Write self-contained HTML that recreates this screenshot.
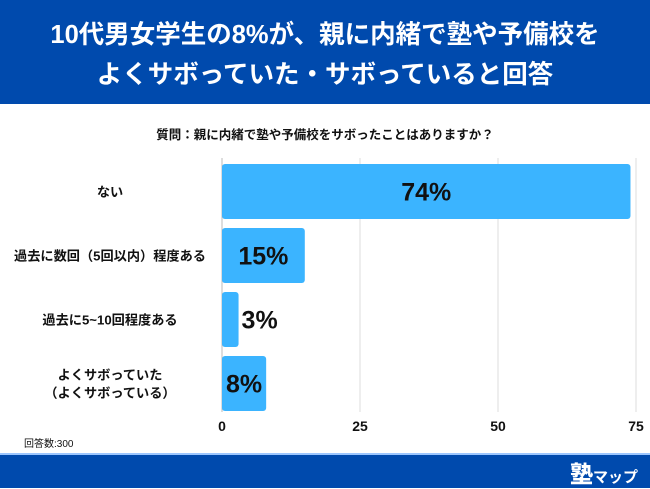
<!DOCTYPE html>
<html><head><meta charset="utf-8"><style>
body{margin:0;width:650px;height:488px;overflow:hidden;background:#fff;font-family:"Liberation Sans","Noto Sans CJK JP",sans-serif;position:relative}
#hdr{position:absolute;left:0;top:0;width:650px;height:104px;background:#004aad;color:#fff;font-weight:bold;font-size:25.5px;line-height:40px;text-align:center;padding-top:15px;box-sizing:border-box}
#ftr{position:absolute;left:0;top:453px;width:650px;height:35px;background:#004aad;border-top:2px solid #9cc6ff;box-sizing:border-box}
#logo{position:absolute;right:12px;top:0px;color:#fff;font-weight:bold;font-size:15px}
#logo b{font-size:23px}
.t{position:absolute;font-weight:bold;color:#111}
</style></head><body>
<div id="hdr">10代男女学生の8%が、親に内緒で塾や予備校を<br>よくサボっていた・サボっていると回答</div>
<div class="t" style="left:0;width:650px;top:124px;text-align:center;font-size:12.5px">質問：親に内緒で塾や予備校をサボったことはありますか？</div>
<svg id="c" width="650" height="488" style="position:absolute;left:0;top:0"></svg>
<div class="t" style="left:24px;top:435px;font-size:10px;font-weight:normal">回答数:300</div>
<div id="ftr"><div id="logo"><b>塾</b>マップ</div></div>
<script>
const categories=["ない","過去に数回（5回以内）程度ある","過去に5~10回程度ある","よくサボっていた\n（よくサボっている）"];
const values=[74,15,3,8];
const ticks=[0,25,50,75];
const svg=document.getElementById('c');
const NS='http://www.w3.org/2000/svg';
const x=v=>222+v*(636-222)/75;
const bandTop=i=>164+i*64;
const bh=55;
function mk(t,a){const e=document.createElementNS(NS,t);for(const k in a)e.setAttribute(k,a[k]);svg.appendChild(e);return e;}
ticks.forEach(t=>{
 const l=mk('line',{x1:x(t),x2:x(t),y1:158,y2:412,stroke:t===0?'#bbb':'#ddd','stroke-width':1});
 
 
 const tx=mk('text',{x:x(t),y:431,'text-anchor':'middle','font-size':14,'font-weight':'bold',fill:'#111','font-family':'Liberation Sans, sans-serif'});
 tx.textContent=t;
 
 
});
values.forEach((v,i)=>{
 const y=bandTop(i);
 const w=x(v)-x(0);
 const r=mk('rect',{x:x(0),y:y,width:w,height:bh,rx:3,fill:'#3bb4ff'});
 
 
 const inside=w>=30;
 const vt=mk('text',{x:inside?(x(0)+x(v))/2:x(v)+3,y:y+bh/2+9,'text-anchor':inside?'middle':'start','font-size':25,'font-weight':'bold',fill:'#111','font-family':'Liberation Sans, sans-serif'});
 vt.textContent=v+'%';
 
 
 const lines=categories[i].split('\n');
 lines.forEach((s,j)=>{
  const ct=mk('text',{x:110,y:y+bh/2+5+(j-(lines.length-1)/2)*18,'text-anchor':'middle','font-size':13.2,'font-weight':'bold',fill:'#111','font-family':'Liberation Sans, Noto Sans CJK JP, sans-serif'});
  ct.textContent=s;
  
  
 });
});
</script>
</body></html>
